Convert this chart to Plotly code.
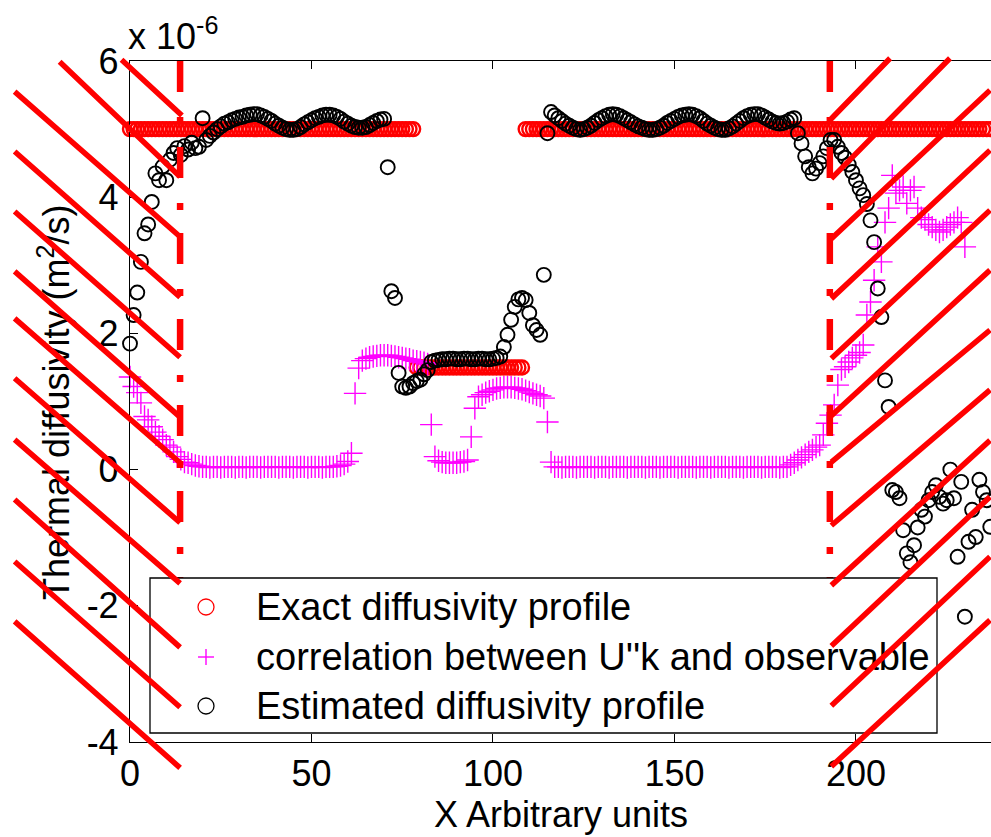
import plotly.graph_objects as go

# ---------------------------------------------------------------------------
# Data (thermal diffusivity expressed in units of 1e-6 m^2/s)
# ---------------------------------------------------------------------------

# exact (true) diffusivity profile: high plateau, low inclusion, high plateau
exact_y = [5.0] * 79 + [1.5] * 30 + [5.0] * 129
exact_x = list(range(len(exact_y)))

# correlation between U''k and the observable
corr_y = [
    1.36, 1.22, 1.13, 0.98, 0.78, 0.73, 0.63, 0.55, 0.49, 0.44,
    0.36, 0.33, 0.26, 0.19, 0.15, 0.11, 0.10, 0.08, 0.06, 0.05,
    0.04, 0.04, 0.03, 0.04, 0.04, 0.03, 0.04, 0.04, 0.04, 0.03,
    0.04, 0.04, 0.03, 0.04, 0.04, 0.04, 0.03, 0.04, 0.04, 0.04,
    0.04, 0.03, 0.04, 0.04, 0.04, 0.03, 0.04, 0.04, 0.04, 0.03,
    0.04, 0.04, 0.04, 0.03, 0.04, 0.04, 0.04, 0.05, 0.06, 0.08,
    0.12, 0.24, 1.12, 1.49, 1.60,
    1.63, 1.65, 1.66, 1.67, 1.68, 1.68, 1.68, 1.67, 1.66, 1.65,
    1.64, 1.63, 1.62, 1.60, 1.59, 1.58, 1.57, 1.55,
    0.66, 0.19, 0.13, 0.11, 0.10, 0.10, 0.10, 0.10, 0.11, 0.12,
    0.14, 0.48, 0.90, 1.07,
    1.10, 1.13, 1.15, 1.17, 1.19, 1.20, 1.21, 1.21, 1.21, 1.20,
    1.19, 1.18, 1.16, 1.14, 1.12, 1.10, 1.08,
    1.05, 0.70, 0.11,
    0.04, 0.04, 0.03, 0.04, 0.04, 0.04, 0.03, 0.04, 0.04, 0.04,
    0.04, 0.03, 0.04, 0.04, 0.04, 0.03, 0.04, 0.04, 0.04, 0.04,
    0.03, 0.04, 0.04, 0.04, 0.04, 0.03, 0.04, 0.04, 0.04, 0.03,
    0.04, 0.04, 0.04, 0.04, 0.03, 0.04, 0.04, 0.04, 0.04, 0.03,
    0.04, 0.04, 0.04, 0.03, 0.04, 0.04, 0.04, 0.04, 0.03, 0.04,
    0.04, 0.04, 0.03, 0.04, 0.04, 0.04, 0.04, 0.03, 0.04, 0.04,
    0.04, 0.04, 0.03, 0.04,
    0.04, 0.07, 0.10, 0.14, 0.18, 0.22, 0.26, 0.29, 0.33, 0.36,
    0.51, 0.68, 0.80, 0.95, 1.24, 1.47, 1.51, 1.58, 1.64, 1.68,
    1.72, 1.83, 2.27, 2.46, 2.78, 3.27, 3.05, 3.63, 3.84, 4.32,
    4.06, 4.10, 4.15, 3.91, 4.10, 4.15, 3.84, 3.70, 3.67, 3.60,
    3.56, 3.52, 3.49, 3.52, 3.56, 3.60, 3.63, 3.70, 3.63, 3.27,
]
corr_x = list(range(len(corr_y)))

# estimated diffusivity profile
est_y = [
    1.85, 2.27, 2.60, 3.05, 3.47, 3.60, 3.93, 4.35, 4.25, 4.45,
    4.25, 4.55, 4.65, 4.72, 4.62, 4.75, 4.70, 4.80, 4.72, 4.74,
    5.16, 4.84, 4.90, 4.95,
    5.00, 5.04, 5.08, 5.10, 5.13, 5.15, 5.17, 5.18, 5.20, 5.21,
    5.22, 5.22, 5.20, 5.18, 5.15, 5.12, 5.08, 5.05, 5.02, 5.00,
    4.99, 4.99, 5.00, 5.03, 5.07, 5.10, 5.13, 5.16, 5.18, 5.20,
    5.21, 5.21, 5.20, 5.18, 5.15, 5.11, 5.08, 5.05, 5.03, 5.02,
    5.02, 5.03, 5.06, 5.09, 5.12, 5.14, 5.15,
    4.44, 2.62, 2.52, 1.42, 1.22, 1.20, 1.22, 1.27, 1.30, 1.32,
    1.40, 1.46, 1.58,
    1.60, 1.61, 1.62, 1.62, 1.63, 1.63, 1.62, 1.62, 1.63, 1.63,
    1.62, 1.62, 1.63, 1.63, 1.62, 1.62, 1.63, 1.64, 1.66,
    1.80, 1.98, 2.20, 2.39, 2.50, 2.52, 2.49, 2.30, 2.12, 2.05,
    1.98, 2.86, 4.94, 5.25,
    5.20, 5.16, 5.12, 5.08, 5.05, 5.02, 5.00, 4.99, 5.00, 5.02,
    5.05, 5.09, 5.13, 5.16, 5.19, 5.21, 5.22, 5.21, 5.19, 5.16,
    5.13, 5.10, 5.07, 5.04, 5.02, 5.00, 4.99, 4.99, 5.00, 5.02,
    5.05, 5.09, 5.12, 5.15, 5.18, 5.20, 5.21, 5.22, 5.21, 5.19,
    5.16, 5.12, 5.08, 5.05, 5.02, 5.00, 4.99, 4.99, 5.01, 5.04,
    5.08, 5.12, 5.16, 5.19, 5.21, 5.22, 5.22, 5.20, 5.17, 5.14,
    5.11, 5.09, 5.08, 5.09, 5.11, 5.14, 5.16,
    4.94, 4.79, 4.60, 4.44, 4.35, 4.42, 4.50, 4.60, 4.72, 4.84,
    4.84, 4.74, 4.65, 4.58, 4.48, 4.37, 4.25, 4.13, 4.03, 3.90,
    3.66, 3.34, 2.66, 2.24, 1.31, 0.92,
    -0.30, -0.33, -0.42, -0.89, -1.23, -1.36, -1.11, -0.85, -0.59, -0.69,
    -0.45, -0.33, -0.23, -0.40, -0.50, -0.45, 0.00, -0.42, -1.28, -0.18,
    -2.16, -1.06, -0.59, -0.99, -0.15, -0.33, -0.45, -0.84,
]
est_x = list(range(len(est_y)))

# limits of the trusted region (dash-dot boundaries)
boundary_x = [13.8, 192.8]

x_ticks = [0, 50, 100, 150, 200]
y_ticks = [-4, -2, 0, 2, 4, 6]
y_tick_text = ["-4", "-2", "0", "2", "4", "6"]

legend_labels = [
    "Exact diffusivity profile",
    "correlation between U''k and observable",
    "Estimated diffusivity profile",
]

# hatching of the excluded zones, segments given in axis units (x0, y0, x1, y1)
hatch_left = [
    (-2.75, 6.04, 14.3, 5.20),
    (-19.8, 6.01, 13.8, 4.30),
    (-32.2, 5.57, 13.8, 3.42),
    (-32.2, 4.69, 13.8, 2.53),
    (-32.2, 3.81, 13.8, 1.65),
    (-32.2, 2.93, 13.8, 0.77),
    (-32.2, 2.24, 13.8, 0.10),
    (-32.2, 1.36, 13.8, -0.78),
    (-32.2, 0.46, 13.8, -1.67),
    (-32.2, -0.42, 13.8, -2.61),
    (-32.2, -1.33, 13.8, -3.49),
    (-32.2, -2.21, 13.8, -4.38),
]
hatch_right = [
    (192.8, 5.13, 209.4, 6.04),
    (192.8, 4.25, 225.9, 6.04),
    (192.8, 3.37, 237.2, 5.57),
    (192.8, 2.49, 237.2, 4.69),
    (192.8, 1.61, 237.2, 3.81),
    (192.8, 0.77, 237.2, 2.93),
    (192.8, 0.09, 237.2, 2.05),
    (192.8, -0.84, 237.2, 1.17),
    (192.8, -1.72, 237.2, 0.43),
    (192.8, -2.61, 237.2, -0.40),
    (192.8, -3.49, 237.2, -1.28),
    (192.8, -4.38, 237.2, -2.21),
]

# ---------------------------------------------------------------------------
# Geometry / style
# ---------------------------------------------------------------------------
FIG_W, FIG_H = 991, 837
M_L, M_R, M_T, M_B = 130, 0, 61, 95
X_RANGE = (0.0, 237.2)
Y_RANGE = (-4.0, 6.0)
PLOT_W = FIG_W - M_L - M_R
PLOT_H = FIG_H - M_T - M_B

FONT = "Liberation Sans, Arial, Helvetica, sans-serif"
FS = 36
FS_LEG = 38
RED, MAGENTA, BLACK = "#ff0000", "#ff00ff", "#000000"
AXW = 1.3


def data_to_px(x, y):
    px = M_L + (x - X_RANGE[0]) / (X_RANGE[1] - X_RANGE[0]) * PLOT_W
    py = M_T + (Y_RANGE[1] - y) / (Y_RANGE[1] - Y_RANGE[0]) * PLOT_H
    return px, py


def px_to_paper(px, py):
    return (px - M_L) / PLOT_W, 1 - (py - M_T) / PLOT_H


def data_to_paper(x, y):
    return px_to_paper(*data_to_px(x, y))


fig = go.Figure()

fig.add_trace(go.Scatter(
    x=exact_x, y=exact_y, mode="markers", name=legend_labels[0],
    marker=dict(symbol="circle-open", size=14, color=RED, line=dict(width=2.4)),
    cliponaxis=False,
))
fig.add_trace(go.Scatter(
    x=corr_x, y=corr_y, mode="markers", name=legend_labels[1],
    marker=dict(symbol="cross-thin-open", size=16, color=MAGENTA, line=dict(width=1.4)),
    cliponaxis=False,
))
fig.add_trace(go.Scatter(
    x=est_x, y=est_y, mode="markers", name=legend_labels[2],
    marker=dict(symbol="circle-open", size=14, color=BLACK, line=dict(width=1.9)),
    cliponaxis=False,
))

shapes = []
# dash-dot boundaries of the trusted region
for bx in boundary_x:
    xp, _ = data_to_paper(bx, 0)
    shapes.append(dict(
        type="line", xref="paper", yref="paper", x0=xp, x1=xp, y0=1, y1=0,
        line=dict(color=RED, width=6.5, dash="31px,25px,7px,23px"), layer="above",
    ))

# legend box
LEG_X0, LEG_X1, LEG_Y0, LEG_Y1 = 150, 937, 578, 733
lx0, ly0 = px_to_paper(LEG_X0, LEG_Y1)
lx1, ly1 = px_to_paper(LEG_X1, LEG_Y0)
shapes.append(dict(
    type="rect", xref="paper", yref="paper", x0=lx0, x1=lx1, y0=ly0, y1=ly1,
    fillcolor="white", line=dict(color=BLACK, width=AXW), layer="above",
))

ROW_Y = [607, 657, 706]
SYM_X = 206
R = 8
for color, row in ((RED, ROW_Y[0]), (BLACK, ROW_Y[2])):
    a = px_to_paper(SYM_X - R, row + R)
    b = px_to_paper(SYM_X + R, row - R)
    shapes.append(dict(
        type="circle", xref="paper", yref="paper", x0=a[0], y0=a[1], x1=b[0], y1=b[1],
        line=dict(color=color, width=1.3), layer="above",
    ))
for (p0, p1) in (((SYM_X - R, ROW_Y[1]), (SYM_X + R, ROW_Y[1])),
                 ((SYM_X, ROW_Y[1] - R), (SYM_X, ROW_Y[1] + R))):
    a = px_to_paper(*p0)
    b = px_to_paper(*p1)
    shapes.append(dict(
        type="line", xref="paper", yref="paper", x0=a[0], y0=a[1], x1=b[0], y1=b[1],
        line=dict(color=MAGENTA, width=1.4), layer="above",
    ))

annotations = []
for label, row in zip(legend_labels, ROW_Y):
    ax_, ay_ = px_to_paper(254, row)
    annotations.append(dict(
        x=ax_, y=ay_, xref="paper", yref="paper", text=label, showarrow=False,
        xanchor="left", yanchor="middle", font=dict(family=FONT, size=FS_LEG, color=BLACK),
    ))

# axis titles and exponent label
tx, ty = px_to_paper(561, 814)
annotations.append(dict(
    x=tx, y=ty, xref="paper", yref="paper", text="X Arbitrary units", showarrow=False,
    xanchor="center", yanchor="middle", font=dict(family=FONT, size=FS, color=BLACK),
))
tx, ty = px_to_paper(54, 403)
annotations.append(dict(
    x=tx, y=ty, xref="paper", yref="paper", text="Thermal diffusivity (m<sup>2</sup>/s)",
    showarrow=False, textangle=-90, xanchor="center", yanchor="middle",
    font=dict(family=FONT, size=FS, color=BLACK),
))
tx, ty = px_to_paper(126, 34)
annotations.append(dict(
    x=tx, y=ty, xref="paper", yref="paper", text="x 10<sup>-6</sup>", showarrow=False,
    xanchor="left", yanchor="middle", font=dict(family=FONT, size=FS, color=BLACK),
))

# hatch strokes drawn on top of everything
for (x0, y0, x1, y1) in hatch_left + hatch_right:
    hx, hy = data_to_px(x1, y1)
    sx, sy = data_to_px(x0, y0)
    hp = px_to_paper(hx, hy)
    annotations.append(dict(
        x=hp[0], y=hp[1], xref="paper", yref="paper", text="", showarrow=True,
        axref="pixel", ayref="pixel", ax=sx - hx, ay=sy - hy,
        arrowhead=0, arrowwidth=5.5, arrowcolor=RED, standoff=0, startstandoff=0,
        font=dict(size=1),
    ))

axis_common = dict(
    showgrid=False, zeroline=False, showline=True, linecolor=BLACK, linewidth=AXW,
    ticks="inside", ticklen=8, tickwidth=AXW, tickcolor=BLACK,
    tickfont=dict(family=FONT, size=FS, color=BLACK),
)

fig.update_layout(
    width=FIG_W, height=FIG_H,
    margin=dict(l=M_L, r=M_R, t=M_T, b=M_B, pad=0),
    paper_bgcolor="white", plot_bgcolor="white",
    showlegend=False,
    xaxis=dict(range=list(X_RANGE), tickvals=x_ticks, mirror="ticks",
               ticklabelstandoff=0, **axis_common),
    yaxis=dict(range=list(Y_RANGE), tickvals=y_ticks, ticktext=y_tick_text, mirror=False,
               ticklabelstandoff=3, **axis_common),
    shapes=shapes,
    annotations=annotations,
)

fig.write_html("out.html")
